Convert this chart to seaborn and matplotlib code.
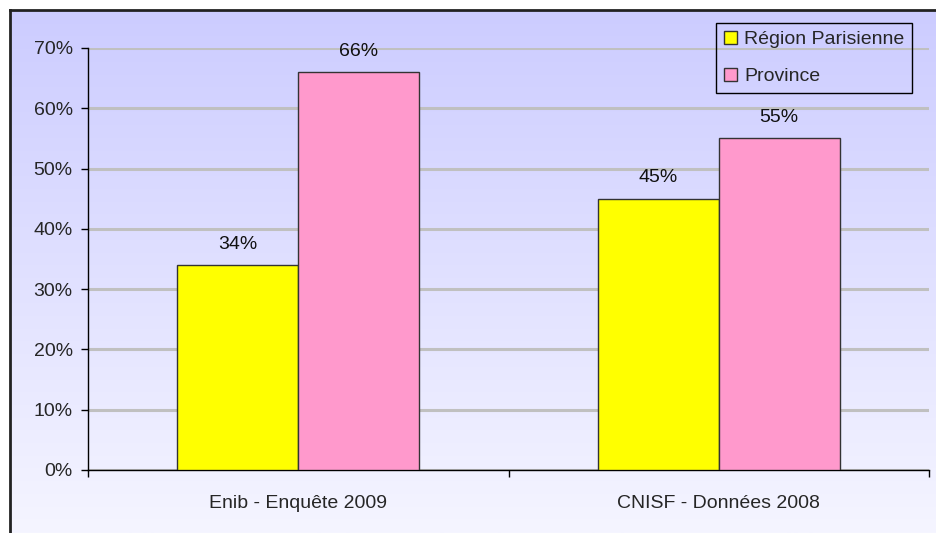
import numpy as np
import pandas as pd
import seaborn as sns
import matplotlib.pyplot as plt
from matplotlib.colors import LinearSegmentedColormap
from matplotlib.ticker import FuncFormatter

categories = ["Enib - Enquête 2009", "CNISF - Données 2008"]
series = ["Région Parisienne", "Province"]
region_parisienne = [34, 45]
province = [66, 55]

df = pd.DataFrame({
    "source": categories * 2,
    "zone": [series[0]] * 2 + [series[1]] * 2,
    "pct": region_parisienne + province,
})

sns.set_theme(style="white")
plt.rcParams["font.family"] = ["Liberation Sans", "DejaVu Sans"]
plt.rcParams["font.size"] = 14

W, H = 936, 533
fig = plt.figure(figsize=(W / 100, H / 100), dpi=100)
fig.patch.set_facecolor("white")

# gradient background with a border at top and left
bg = fig.add_axes([10 / W, 0, 1 - 10 / W, 1 - 10 / H], zorder=0)
grad = np.linspace(0, 1, 256).reshape(-1, 1)
cmap = LinearSegmentedColormap.from_list("bg", ["#ccccff", "#f5f5ff"])
bg.imshow(grad, aspect="auto", cmap=cmap, extent=[0, 1, 0, 1], origin="upper")
bg.set_xticks([])
bg.set_yticks([])
for side in ["right", "bottom"]:
    bg.spines[side].set_visible(False)
for side in ["top", "left"]:
    bg.spines[side].set_color("#222222")
    bg.spines[side].set_linewidth(2)

ax = fig.add_axes([88 / W, 1 - 470 / H, (929 - 88) / W, (470 - 48) / H], zorder=1)
ax.set_facecolor("none")

sns.barplot(data=df, x="source", y="pct", hue="zone", order=categories,
            hue_order=series, palette=["#ffff00", "#ff99cc"], width=0.575,
            edgecolor="#333333", linewidth=1, saturation=1, ax=ax, zorder=3)

for cont in ax.containers:
    ax.bar_label(cont, fmt="%d%%", padding=9, fontsize=14, color="#111111")

ax.set_ylim(0, 70)
ax.set_xlim(-0.5, 1.5)
ax.set_yticks(range(0, 71, 10))
ax.yaxis.set_major_formatter(FuncFormatter(lambda v, p: f"{v:.0f}%"))
ax.yaxis.grid(True, color="#c0c0c0", linewidth=2.2, zorder=0)
ax.set_axisbelow(True)
ax.set_xlabel("")
ax.set_ylabel("")

ax.set_xticks([-0.5, 0.5, 1.5], minor=True)
ax.tick_params(axis="x", which="major", length=0, pad=18, labelsize=14)
ax.tick_params(axis="x", which="minor", length=5, width=1, color="black", direction="out", bottom=True)
ax.tick_params(axis="y", length=5, width=1, color="black", direction="out", left=True, labelsize=14, pad=6)

for side in ["top", "right"]:
    ax.spines[side].set_visible(False)
for side in ["left", "bottom"]:
    ax.spines[side].set_color("black")
    ax.spines[side].set_linewidth(1)

handles, labels = ax.get_legend_handles_labels()
ax.legend(handles, labels, loc="upper right",
          bbox_to_anchor=(912 / W, 1 - 23 / H), bbox_transform=fig.transFigure,
          frameon=True, fancybox=False, edgecolor="black", facecolor="none",
          framealpha=1, fontsize=14, handlelength=0.7, handleheight=0.7,
          handletextpad=0.35, labelspacing=1.0, borderpad=0.4, borderaxespad=0)
ax.get_legend().get_frame().set_linewidth(1)

fig.savefig("out.png", dpi=100)
